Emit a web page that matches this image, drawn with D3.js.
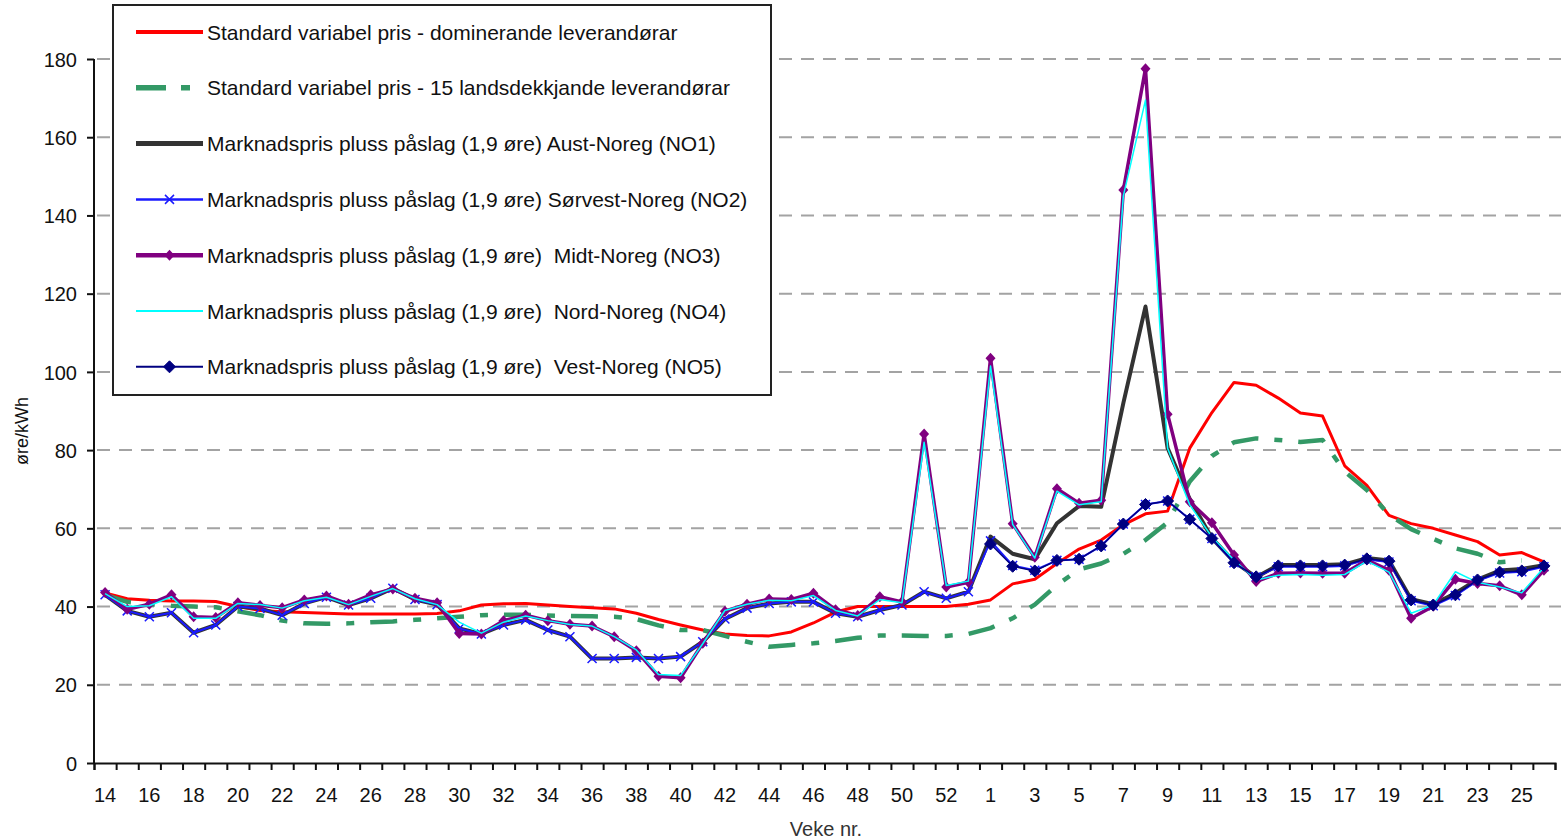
<!DOCTYPE html>
<html>
<head>
<meta charset="utf-8">
<script src="https://cdn.jsdelivr.net/npm/d3@7"></script>
<style>
  body { margin: 0; background: #fff; }
  svg text { font-family: "Liberation Sans", Arial, sans-serif; fill: #111; }
</style>
</head>
<body>
<svg id="chart" width="1566" height="839"></svg>
<script>
// Week labels: 2009 weeks 14-53, then 2010 weeks 1-26
const weeks = d3.range(14, 54).concat(d3.range(1, 27));

const red_dominant = [43.5, 42.0, 41.6, 41.4, 41.4, 41.3, 40.0, 39.0, 38.7, 38.5,
  38.3, 38.1, 38.1, 38.1, 38.1, 38.2, 38.9, 40.4, 40.7, 40.8,
  40.4, 40.0, 39.7, 39.4, 38.3, 36.7, 35.3, 34.0, 33.0, 32.6,
  32.5, 33.5, 35.8, 38.6, 40.0, 40.0, 40.0, 40.0, 40.0, 40.6,
  41.7, 45.8, 47.0, 51.0, 54.7, 57.0, 60.9, 63.7, 64.4, 80.5,
  89.6, 97.3, 96.6, 93.3, 89.5, 88.7, 76.0, 71.0, 63.3, 61.2,
  60.0, 58.3, 56.6, 53.2, 53.8, 51.4];

const green_national = [43.0, 41.2, 40.6, 40.2, 40.0, 39.8, 38.8, 37.8, 36.4, 35.7,
  35.6, 35.7, 36.0, 36.2, 36.6, 37.0, 37.4, 37.8, 37.9, 37.9,
  37.7, 37.6, 37.5, 37.4, 36.8, 35.2, 34.0, 34.0, 32.5, 31.0,
  29.7, 30.2, 30.6, 31.2, 32.0, 32.6, 32.6, 32.5, 32.5, 33.0,
  34.5, 37.0, 40.5, 45.5, 49.5, 51.0, 53.5, 57.0, 61.5, 72.0,
  78.5, 82.0, 83.0, 82.6, 82.1, 82.6, 74.5, 69.8, 63.5, 59.8,
  57.3, 54.9, 53.5, 51.3, 51.8, null];

const no1_aust = [43.0, 38.9, 37.4, 38.4, 33.3, 35.3, 40.0, 39.5, 37.8, 40.8,
  42.4, 40.4, 42.1, 44.7, 41.8, 40.5, 34.4, 33.0, 35.3, 36.6,
  34.0, 32.3, 26.7, 26.7, 27.0, 26.7, 27.2, 31.0, 36.8, 39.6,
  40.8, 41.2, 41.2, 38.3, 37.4, 39.1, 40.4, 43.8, 42.1, 43.8,
  57.9, 53.5, 52.1, 61.3, 65.7, 65.5, 92.0, 116.7, 80.5, 67.5,
  57.5, 51.5, 47.5, 50.6, 50.6, 50.6, 50.8, 52.4, 51.8, 41.9,
  40.6, 43.4, 46.9, 49.2, 49.6, 50.6];

const no2_sorvest = [43.0, 38.9, 37.4, 38.4, 33.3, 35.3, 40.0, 39.5, 37.8, 40.8,
  42.4, 40.4, 42.1, 44.7, 41.8, 40.5, 34.4, 33.0, 35.3, 36.6,
  34.0, 32.3, 26.7, 26.7, 27.0, 26.7, 27.2, 31.0, 36.8, 39.6,
  40.8, 41.2, 41.2, 38.3, 37.4, 39.1, 40.4, 43.8, 42.1, 43.8,
  56.8, 50.5, 49.3, 51.8, 52.1, 55.5, 61.1, 66.1, 67.0, 62.3,
  57.4, 51.2, 47.6, 50.2, 50.2, 50.2, 50.4, 52.0, 51.4, 41.5,
  40.2, 42.8, 46.6, 48.6, 48.9, 50.2];

const no3_midt = [43.6, 39.3, 40.6, 43.0, 37.4, 37.2, 41.0, 40.3, 39.7, 41.7,
  42.7, 40.6, 43.0, 44.5, 42.1, 41.0, 33.1, 33.0, 36.4, 37.8,
  36.4, 35.5, 35.0, 32.3, 28.7, 22.2, 21.8, 30.6, 38.8, 40.6,
  41.9, 41.8, 43.4, 39.2, 37.7, 42.5, 41.2, 84.1, 45.0, 46.2,
  103.5, 61.2, 52.6, 70.1, 66.4, 67.2, 146.5, 177.5, 89.2, 66.8,
  61.4, 53.2, 46.4, 48.5, 48.6, 48.5, 48.5, 51.9, 49.3, 37.0,
  40.1, 47.0, 45.9, 45.3, 43.0, 49.3];

const no4_nord = [43.3, 40.0, 40.2, 42.5, 37.0, 37.0, 40.8, 40.5, 39.6, 41.5,
  42.4, 40.5, 42.6, 44.6, 42.0, 40.5, 36.0, 33.2, 36.0, 37.6,
  36.4, 35.4, 35.0, 32.3, 28.9, 22.6, 22.4, 30.5, 39.0, 40.6,
  41.6, 41.5, 42.8, 39.0, 37.6, 41.8, 41.0, 82.0, 45.4, 46.5,
  101.5, 61.0, 52.4, 69.5, 66.0, 66.8, 145.0, 169.5, 80.5, 66.0,
  57.8, 51.9, 46.8, 48.0, 48.2, 48.0, 48.2, 51.6, 48.8, 38.3,
  40.4, 48.9, 46.2, 45.0, 43.5, 50.0];

const no5_vest = [null, null, null, null, null, null, null, null, null, null,
  null, null, null, null, null, null, null, null, null, null,
  null, null, null, null, null, null, null, null, null, null,
  null, null, null, null, null, null, null, null, null, null,
  56.0, 50.3, 49.1, 51.8, 52.1, 55.5, 61.1, 66.1, 67.0, 62.3,
  57.4, 51.2, 47.6, 50.4, 50.4, 50.4, 50.6, 52.2, 51.6, 41.7,
  40.4, 43.0, 46.8, 48.8, 49.1, 50.4];

const y_ticks = [0, 20, 40, 60, 80, 100, 120, 140, 160, 180];

const series = [
  {name: "Standard variabel pris - dominerande leverandørar", values: red_dominant,
   color: "#ff0000", width: 3, dash: null, marker: null},
  {name: "Standard variabel pris - 15 landsdekkjande leverandørar", values: green_national,
   color: "#339966", width: 4.5, dash: "27,16,8,16", marker: null},
  {name: "Marknadspris pluss påslag (1,9 øre) Aust-Noreg (NO1)", values: no1_aust,
   color: "#333333", width: 4, dash: null, marker: null},
  {name: "Marknadspris pluss påslag (1,9 øre) Sørvest-Noreg (NO2)", values: no2_sorvest,
   color: "#1a1aff", width: 2, dash: null, marker: "x"},
  {name: "Marknadspris pluss påslag (1,9 øre)  Midt-Noreg (NO3)", values: no3_midt,
   color: "#800080", width: 3.5, dash: null, marker: "small"},
  {name: "Marknadspris pluss påslag (1,9 øre)  Nord-Noreg (NO4)", values: no4_nord,
   color: "#00ffff", width: 1.5, dash: null, marker: null},
  {name: "Marknadspris pluss påslag (1,9 øre)  Vest-Noreg (NO5)", values: no5_vest,
   color: "#000080", width: 1.5, dash: null, marker: "diamond"},
];

const svg = d3.select("#chart");
const plot_left = 94, plot_right = 1555, plot_top = 59, plot_bottom = 763;

const x = d3.scaleBand().domain(d3.range(weeks.length)).range([plot_left, plot_right]).padding(0);
const x_mid = (i) => x(i) + x.bandwidth() / 2;
const y = d3.scaleLinear().domain([0, 180]).range([plot_bottom, plot_top]);

// Dashed grid lines
svg.append("g")
  .selectAll("line")
  .data(y_ticks.filter((t) => t > 0))
  .join("line")
  .attr("x1", plot_left + 3)
  .attr("x2", 1561)
  .attr("y1", (d) => y(d))
  .attr("y2", (d) => y(d))
  .style("stroke", "#a3a3a3")
  .style("stroke-width", 2)
  .style("stroke-dasharray", "13,9");

// Y axis
let y_axis = svg.append("g")
  .attr("transform", `translate(${plot_left},0)`)
  .call(d3.axisLeft(y).tickValues(y_ticks).tickSize(7).tickPadding(10));
y_axis.selectAll("text").style("font-size", "20px").attr("dy", "0.36em");
y_axis.selectAll("line, path").style("stroke", "#111").style("stroke-width", 2);
y_axis.select(".domain").attr("d", `M0,${plot_top}V${plot_bottom}`);

// X axis: tick marks on category boundaries, labels on every second category
let boundary = d3.scaleLinear().domain([0, weeks.length]).range([plot_left, plot_right]);
let x_ticks = svg.append("g")
  .attr("transform", `translate(0,${plot_bottom})`)
  .call(d3.axisBottom(boundary).tickValues(d3.range(weeks.length + 1)).tickSize(7).tickFormat(""));
x_ticks.selectAll("line, path").style("stroke", "#111").style("stroke-width", 2);

let x_labels = svg.append("g")
  .attr("transform", `translate(0,${plot_bottom})`)
  .call(d3.axisBottom(x)
    .tickValues(d3.range(0, weeks.length, 2))
    .tickFormat((i) => weeks[i])
    .tickSize(0)
    .tickPadding(25));
x_labels.select(".domain").remove();
x_labels.selectAll("text").style("font-size", "20px");

// Axis titles
svg.append("text")
  .text("Veke nr.")
  .attr("x", 826)
  .attr("y", 836)
  .attr("text-anchor", "middle")
  .style("font-size", "20px")
  .style("fill", "#333");

svg.append("text")
  .text("øre/kWh")
  .attr("transform", "translate(28,431) rotate(-90)")
  .attr("text-anchor", "middle")
  .style("font-size", "18px");

function draw_marker(g, type, cx, cy, color) {
  if (type == "x") {
    g.append("path")
      .attr("d", `M${cx - 4.5},${cy - 4.5}L${cx + 4.5},${cy + 4.5}M${cx - 4.5},${cy + 4.5}L${cx + 4.5},${cy - 4.5}`)
      .style("stroke", color)
      .style("stroke-width", 1.5)
      .style("fill", "none");
  } else if (type == "small") {
    g.append("path")
      .attr("d", `M${cx},${cy - 5.5}L${cx + 5},${cy}L${cx},${cy + 5.5}L${cx - 5},${cy}Z`)
      .style("fill", color);
  } else if (type == "diamond") {
    g.append("path")
      .attr("d", `M${cx},${cy - 6}L${cx + 6},${cy}L${cx},${cy + 6}L${cx - 6},${cy}Z`)
      .style("fill", color)
      .style("stroke", color)
      .style("stroke-width", 1);
  }
}

// Lines
let line = d3.line()
  .defined((d) => d != null)
  .x((d, i) => x_mid(i))
  .y((d) => y(d));

series.forEach((s) => {
  let g = svg.append("g");
  g.append("path")
    .attr("d", line(s.values))
    .style("fill", "none")
    .style("stroke", s.color)
    .style("stroke-width", s.width)
    .style("stroke-linejoin", "round")
    .style("stroke-dasharray", s.dash);
  if (s.marker) {
    s.values.forEach((v, i) => {
      if (v != null) draw_marker(g, s.marker, x_mid(i), y(v), s.color);
    });
  }
});

// Legend
let legend = svg.append("g");
legend.append("rect")
  .attr("x", 113)
  .attr("y", 5)
  .attr("width", 658)
  .attr("height", 390)
  .style("fill", "#fff")
  .style("stroke", "#222")
  .style("stroke-width", 2);

series.forEach((s, k) => {
  let ly = 32 + k * 55.8;
  legend.append("line")
    .attr("x1", 136)
    .attr("x2", 203)
    .attr("y1", ly)
    .attr("y2", ly)
    .style("stroke", s.color)
    .style("stroke-width", s.width + (s.width >= 3 ? 1 : 0.5))
    .style("stroke-dasharray", s.dash ? "30,15,9,40" : null);
  if (s.marker) draw_marker(legend, s.marker, 169.5, ly, s.color);
  legend.append("text")
    .text(s.name)
    .attr("x", 207)
    .attr("y", ly + 7.5)
    .attr("xml:space", "preserve")
    .style("white-space", "pre")
    .style("font-size", "21px");
});
</script>
</body>
</html>
